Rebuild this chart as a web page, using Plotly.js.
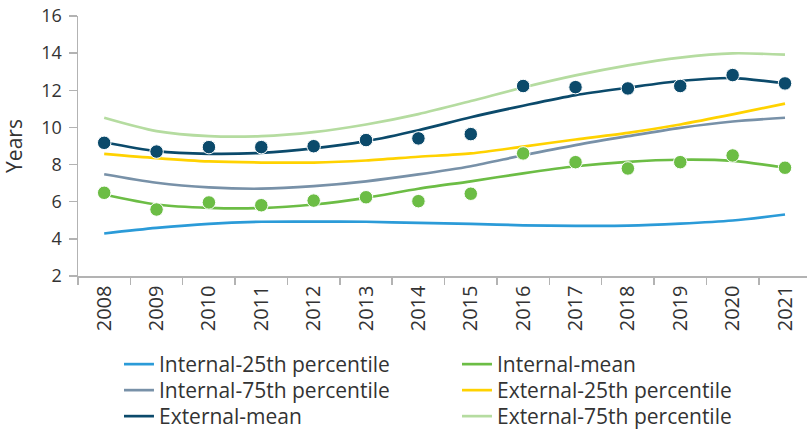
<!DOCTYPE html>
<html><head><meta charset="utf-8">
<script src="https://cdn.plot.ly/plotly-3.0.1.min.js"></script>
<style>html,body{margin:0;padding:0;background:#fff}#chart{width:807px;height:432px}</style>
</head><body><div id="chart"></div>
<script>
const years = ["2008","2009","2010","2011","2012","2013","2014","2015","2016","2017","2018","2019","2020","2021"];
const internal25 = [4.29,4.59,4.81,4.92,4.93,4.92,4.86,4.81,4.73,4.70,4.71,4.82,4.99,5.31];
const internalMeanFit = [6.39,5.85,5.67,5.66,5.85,6.21,6.70,7.10,7.53,7.91,8.15,8.26,8.20,7.83];
const internalMeanPts = [6.48,5.58,5.96,5.81,6.06,6.24,6.03,6.43,8.60,8.13,7.79,8.13,8.49,7.83];
const internal75 = [7.48,7.02,6.77,6.70,6.84,7.10,7.47,7.91,8.50,9.05,9.53,9.98,10.32,10.52];
const external25 = [8.58,8.35,8.17,8.11,8.11,8.22,8.42,8.60,8.97,9.35,9.71,10.16,10.70,11.28];
const externalMeanFit = [9.20,8.72,8.58,8.63,8.87,9.26,9.85,10.55,11.17,11.74,12.14,12.50,12.66,12.37];
const externalMeanPts = [9.17,8.70,8.94,8.94,8.99,9.32,9.41,9.64,12.23,12.17,12.10,12.23,12.82,12.37];
const external75 = [10.52,9.80,9.53,9.53,9.75,10.16,10.72,11.42,12.15,12.80,13.34,13.76,13.99,13.92];
const seriesNames = ["Internal-25th percentile","Internal-mean","Internal-75th percentile","External-25th percentile","External-mean","External-75th percentile"];

const C = {i25:"#2b9bd8", im:"#6cbd45", i75:"#7891a8", e25:"#ffd200", em:"#0b4a6b", e75:"#b5dca0"};
const lw = 2.7;
function line(y, name, color, lg){
  return {x: years, y: y, name: name, type: "scatter", mode: "lines", legend: lg,
          line: {color: color, width: lw, shape: "spline", smoothing: 0.8}, hoverinfo: "skip"};
}
function pts(y, color){
  return {x: years, y: y, type: "scatter", mode: "markers", showlegend: false,
          marker: {color: color, size: 13.5, line: {color: "#fff", width: 1}}, hoverinfo: "skip"};
}
const data = [
  line(internal25, seriesNames[0], C.i25, "legend"),
  line(internalMeanFit, seriesNames[1], C.im, "legend"),
  line(internal75, seriesNames[2], C.i75, "legend2"),
  line(external25, seriesNames[3], C.e25, "legend2"),
  line(externalMeanFit, seriesNames[4], C.em, "legend3"),
  line(external75, seriesNames[5], C.e75, "legend3"),
  pts(internalMeanPts, C.im),
  pts(externalMeanPts, C.em)
];
const fam = "Open Sans, sans-serif";
const txt = "#333333";
const legFont = {family: fam, size: 21, color: txt};
function leg(y){
  return {orientation: "h", x: 0.0562, xanchor: "left", y: y, yanchor: "top",
          entrywidth: 293, entrywidthmode: "pixels", font: legFont,
          bgcolor: "rgba(0,0,0,0)", borderwidth: 0};
}
const layout = {
  width: 807, height: 432,
  margin: {l: 78, r: 0, t: 16, b: 156, autoexpand: false},
  paper_bgcolor: "#fff", plot_bgcolor: "#fff",
  font: {family: fam, size: 18, color: txt},
  showlegend: true,
  xaxis: {type: "category", range: [-0.5, 13.42], showgrid: false, zeroline: false,
          showline: true, linecolor: "#b3b3b3", linewidth: 1.5,
          ticks: "outside", tickson: "boundaries", ticklen: 7, tickcolor: "#b3b3b3", tickwidth: 1.5,
          tickangle: -90, tickfont: {family: fam, size: 20, color: txt}},
  yaxis: {range: [2, 16], dtick: 2, showgrid: false, zeroline: false,
          showline: true, linecolor: "#b3b3b3", linewidth: 1.5,
          ticks: "outside", ticklen: 8, tickcolor: "#b3b3b3", tickwidth: 1.5, ticklabelstandoff: 3,
          tickfont: {family: fam, size: 18, color: txt},
          title: {text: "Years", font: {family: fam, size: 21, color: txt}, standoff: 14}},
  legend: leg(-0.2615),
  legend2: leg(-0.3615),
  legend3: leg(-0.4615)
};
Plotly.newPlot("chart", data, layout, {displayModeBar: false, staticPlot: true});
</script></body></html>
